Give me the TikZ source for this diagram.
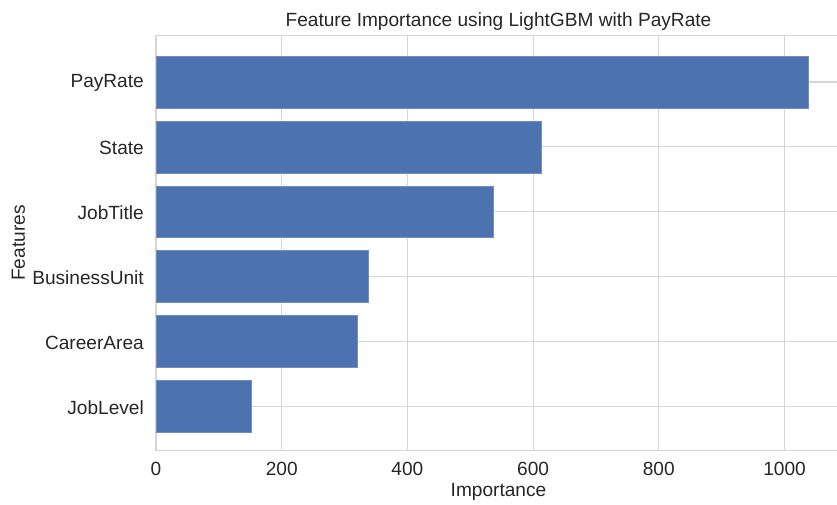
\documentclass[tikz,border=0pt]{standalone}
\usepackage{fontspec}
\setmainfont{Liberation Sans}
\usetikzlibrary{positioning}
\definecolor{barblue}{HTML}{4C72B0}
\definecolor{gridgray}{HTML}{D6D6D6}
\definecolor{inkgray}{HTML}{262626}

\begin{document}
\begin{tikzpicture}[
  x=1pt, y=-1pt, font=\fontsize{19.1}{22}\selectfont, text=inkgray,
  gridline/.style={draw=gridgray, line width=1.2pt},
  bar/.style={fill=barblue, draw=barblue!80!white, line width=0.6pt},
  ticklbl/.style={inner sep=0pt},
]
\useasboundingbox (0,0) rectangle (837,505);

% grid and frame
\foreach \v in {200,400,...,1000}
  \draw[gridline] ({156+0.6285*\v},35.7) -- ++(0,415);
\foreach \k in {0,...,5}
  \draw[gridline] (156,{82+64.9*\k}) -- (837,{82+64.9*\k});
\draw[gridline] (837,35.7) -- (156,35.7) -- (156,450.7) -- (837,450.7);

% bars and feature names
\foreach \k/\v/\feat in {0/1038/PayRate, 1/613/State, 2/537/JobTitle,
    3/337/BusinessUnit, 4/321/CareerArea, 5/152/JobLevel} {
  \draw[bar] (156,{82+64.9*\k-25.95}) rectangle ({156+0.6285*\v},{82+64.9*\k+25.95});
  \node[ticklbl, anchor=east] (feat\k) at (144,{83+64.9*\k}) {\feat};
}

% importance ticks
\foreach \v in {0,200,...,1000}
  \node[ticklbl] (tick\v) at ({156+0.6285*\v},469) {\v};

\node (title) at (498.5,22) {Feature Importance using LightGBM with PayRate};
\node (xlbl) at (498.5,492) {Importance};
\node[rotate=90] (ylbl) at (18.5,243) {Features};
\end{tikzpicture}
\end{document}
